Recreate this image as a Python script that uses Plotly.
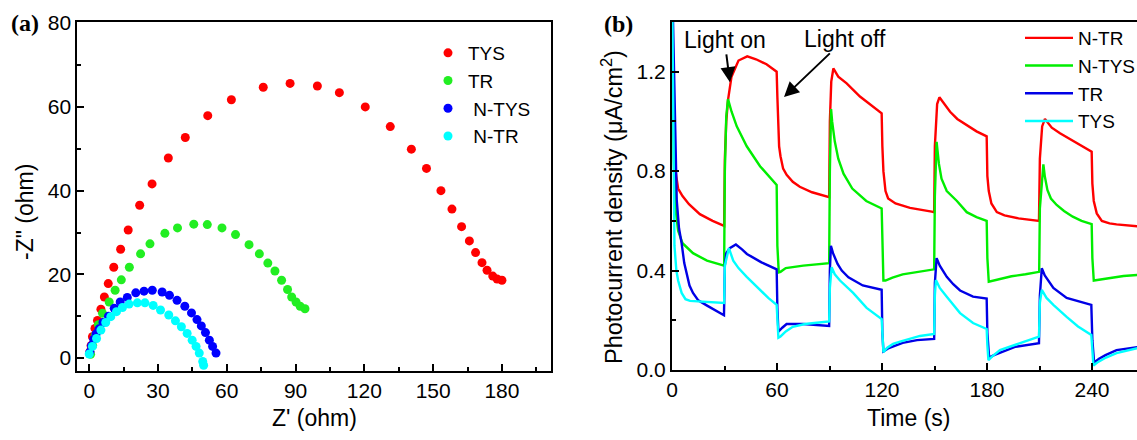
import plotly.graph_objects as go

W, H = 1137, 440

# ---------------- (a) Nyquist plots ----------------
tys_zr = [0.3, 0.8, 1.4, 2.5, 3.6, 5.1, 6.6, 8.3, 10.7, 13.7, 17.0, 22.0, 27.4, 34.5, 41.9,
          51.7, 62.0, 75.9, 87.6, 99.5, 109.1, 120.4, 131.3, 140.5, 147.1, 153.4, 158.2,
          162.4, 165.8, 168.5, 171.3, 173.5, 176.0, 177.9, 180.0]
tys_zi = [1.5, 3.0, 5.1, 7.1, 9.0, 11.7, 14.6, 17.8, 21.7, 26.0, 30.6, 36.5, 41.6, 47.8, 52.7,
          57.9, 61.7, 64.7, 65.6, 65.0, 63.4, 60.0, 55.3, 49.9, 45.3, 40.0, 35.6,
          31.4, 28.0, 25.2, 22.8, 21.0, 19.6, 18.9, 18.6]

tr_zr = [0.6, 1.5, 2.6, 4.0, 5.8, 8.7, 11.3, 14.0, 17.5, 22.4, 26.5, 33.0, 38.5, 45.6, 51.5,
         57.9, 63.8, 69.7, 74.2, 77.9, 81.0, 83.9, 86.5, 88.3, 90.2, 92.0, 94.1]
tr_zi = [0.9, 3.0, 5.5, 8.0, 10.7, 13.4, 16.2, 18.7, 21.7, 24.9, 27.3, 29.8, 31.1, 32.0, 31.9,
         31.1, 29.5, 27.1, 24.9, 22.7, 20.8, 18.6, 16.4, 14.6, 13.4, 12.4, 11.8]

ntys_zr = [0.3, 1.0, 2.0, 3.0, 4.3, 6.0, 8.4, 10.9, 13.5, 16.6, 20.3, 23.9, 27.5, 31.8, 35.0,
           38.3, 41.7, 44.6, 47.0, 48.9, 50.7, 52.4, 53.8, 55.3]
ntys_zi = [1.5, 3.0, 4.5, 5.8, 7.0, 8.5, 10.0, 11.9, 13.4, 14.5, 15.6, 16.0, 16.2, 15.8, 15.0,
           13.8, 12.4, 10.8, 9.2, 7.7, 6.1, 4.3, 2.8, 1.2]

ntr_zr = [0.0, 1.4, 3.2, 5.1, 7.2, 9.4, 11.9, 14.5, 17.4, 21.0, 24.3, 27.9, 31.1, 34.7, 37.6,
          40.2, 42.7, 44.9, 46.6, 48.0, 49.5, 49.9]
ntr_zi = [1.0, 2.8, 4.7, 6.7, 8.5, 9.9, 11.1, 12.1, 12.9, 13.2, 13.2, 12.6, 11.5, 10.3, 8.9,
          7.5, 5.9, 4.3, 2.8, 1.2, -0.8, -1.7]

# ---------------- (b) transient photocurrent ----------------
t_ntr = [0, 1.0, 2.0, 3.5, 6, 9.7, 15.9, 23.2, 29.8, 30.2, 31, 32, 34, 38, 43, 48, 54, 59.8,
         60.2, 60.6, 61.2, 62, 63.5, 65.5, 69, 73, 80, 89.8,
         90.2, 91, 92.2, 95, 99.8, 107.4, 115, 119.8,
         120.2, 120.8, 122, 123.5, 127.7, 136, 148.4, 149.8,
         150.2, 151.5, 152.8, 155, 158.9, 163, 168.4, 174, 179.8,
         180.2, 181, 182.5, 185.6, 190, 198, 209.7,
         210.2, 211.5, 213.1, 217, 221.7, 231.2, 239.8,
         240.2, 241, 242.7, 245.6, 250, 254, 265.9]
j_ntr = [1.6, 0.95, 0.8, 0.73, 0.70, 0.667, 0.627, 0.60, 0.58, 0.85, 1.0, 1.086, 1.18, 1.245, 1.262, 1.25, 1.23, 1.20,
         1.10, 0.97, 0.90, 0.86, 0.81, 0.785, 0.757, 0.737, 0.715, 0.695,
         1.0, 1.16, 1.213, 1.18, 1.153, 1.10, 1.059, 1.033,
         0.90, 0.80, 0.72, 0.69, 0.67, 0.652, 0.637, 0.635,
         0.90, 1.07, 1.097, 1.075, 1.039, 1.01, 0.986, 0.96, 0.94,
         0.78, 0.72, 0.67, 0.635, 0.622, 0.61, 0.60,
         0.85, 0.98, 1.01, 0.975, 0.952, 0.912, 0.878,
         0.75, 0.68, 0.63, 0.60, 0.59, 0.586, 0.578]

t_ntys = [0, 1.0, 2.0, 3.5, 6, 12, 20, 29.8, 30.2, 31, 32, 34, 37, 42.7, 50.3, 57.8, 59.8,
          60.2, 61, 62, 65, 75, 89.8,
          90.2, 90.9, 91.5, 93, 95, 98, 103, 111, 119.8,
          120.2, 120.8, 122, 126, 131.8, 140, 149.8,
          150.2, 151.2, 152.5, 154, 157, 162.8, 168.4, 174, 179.8,
          180.2, 181, 183, 187.4, 194, 202, 209.8,
          210.2, 212.2, 213, 214.5, 216.5, 219.8, 224, 229, 234, 239.8,
          240.2, 241, 243, 250, 258, 265.9]
j_ntys = [1.6, 0.85, 0.65, 0.56, 0.51, 0.47, 0.44, 0.42, 0.80, 1.02, 1.09, 1.04, 0.98, 0.90, 0.82, 0.757, 0.744,
          0.50, 0.393, 0.395, 0.41, 0.42, 0.43,
          0.80, 1.05, 1.0, 0.92, 0.85, 0.79, 0.73, 0.68, 0.65,
          0.50, 0.36, 0.36, 0.372, 0.385, 0.395, 0.405,
          0.70, 0.918, 0.83, 0.77, 0.72, 0.68, 0.635, 0.615, 0.60,
          0.45, 0.355, 0.358, 0.365, 0.377, 0.385, 0.395,
          0.65, 0.827, 0.78, 0.724, 0.69, 0.664, 0.64, 0.617, 0.60, 0.587,
          0.45, 0.36, 0.362, 0.37, 0.378, 0.382]

t_tr = [0, 1.5, 2.7, 4, 5.5, 7, 8.4, 10, 12, 15, 19.8, 25, 29.7,
        30.2, 31, 33, 36.5, 40, 42.8, 51.1, 59.8,
        60.2, 60.8, 63, 65.5, 75, 89.8,
        90.2, 90.8, 92, 94.6, 97, 100.8, 109, 119.8,
        120.2, 120.8, 123.5, 131.8, 140, 149.8,
        150.2, 151.2, 153, 157, 160.7, 164.6, 172, 179.8,
        180.2, 181.2, 184, 187.4, 196, 209.7,
        210.2, 211.3, 213, 217.9, 225.5, 239.6,
        240.2, 241.2, 244, 247.7, 254, 265.9]
j_tr = [1.6, 1.0, 0.684, 0.57, 0.51, 0.43, 0.39, 0.34, 0.31, 0.28, 0.26, 0.24, 0.22,
        0.42, 0.47, 0.49, 0.505, 0.485, 0.467, 0.433, 0.405,
        0.25, 0.154, 0.17, 0.185, 0.185, 0.177,
        0.40, 0.50, 0.47, 0.427, 0.40, 0.373, 0.34, 0.323,
        0.15, 0.075, 0.087, 0.109, 0.12, 0.125,
        0.35, 0.45, 0.42, 0.375, 0.345, 0.32, 0.295, 0.287,
        0.15, 0.05, 0.06, 0.07, 0.093, 0.108,
        0.30, 0.409, 0.38, 0.33, 0.29, 0.262,
        0.12, 0.03, 0.045, 0.06, 0.08, 0.092]

t_tys = [0, 0.7, 1.4, 2.5, 3.5, 5.5, 7.7, 10.3, 21.7, 29.8,
         30.2, 32.5, 35, 38, 42.7, 50.3, 55, 59.8,
         60.2, 60.8, 62, 65, 69, 76, 82.7, 89.8,
         90.2, 91.2, 93, 96, 103.5, 111.2, 119.8,
         120.2, 120.8, 123, 126.3, 130.3, 141.7, 149.8,
         150.2, 150.8, 153, 157, 164.6, 172, 179.8,
         180.2, 180.8, 183, 187.4, 198.9, 209.7,
         210.2, 211.3, 214, 217.9, 225.5, 232, 239.6,
         240.2, 240.8, 243, 248, 254, 265.9]
j_tys = [1.6, 1.0, 0.50, 0.40, 0.36, 0.31, 0.285, 0.278, 0.275, 0.27,
         0.42, 0.49, 0.44, 0.41, 0.375, 0.32, 0.29, 0.262,
         0.20, 0.13, 0.135, 0.155, 0.174, 0.185, 0.19, 0.195,
         0.33, 0.413, 0.385, 0.36, 0.31, 0.25, 0.205,
         0.13, 0.072, 0.09, 0.105, 0.114, 0.137, 0.145,
         0.30, 0.362, 0.33, 0.295, 0.229, 0.189, 0.165,
         0.10, 0.04, 0.055, 0.08, 0.108, 0.134,
         0.27, 0.322, 0.29, 0.262, 0.214, 0.175, 0.141,
         0.06, 0.018, 0.03, 0.05, 0.068, 0.088]

FONT = "Liberation Sans, Arial, sans-serif"
SERIF = "Liberation Serif, Times New Roman, serif"

fig = go.Figure()

nyquist = [
    ("TYS", tys_zr, tys_zi, "#FF0000"),
    ("TR", tr_zr, tr_zi, "#22EE22"),
    (" N-TYS", ntys_zr, ntys_zi, "#0000FF"),
    (" N-TR", ntr_zr, ntr_zi, "#00FFFF"),
]
for name, zr, zi, col in nyquist:
    fig.add_trace(go.Scatter(x=zr, y=zi, mode="markers", name=name,
                             marker=dict(size=9, color=col, line=dict(width=0)),
                             xaxis="x", yaxis="y", legend="legend"))

transients = [
    ("N-TR", t_ntr, j_ntr, "#FF0000"),
    ("N-TYS", t_ntys, j_ntys, "#00EE00"),
    ("TR", t_tr, j_tr, "#0000E6"),
    ("TYS", t_tys, j_tys, "#00FFFF"),
]
for name, t, j, col in transients:
    fig.add_trace(go.Scatter(x=t, y=j, mode="lines", name=name,
                             line=dict(color=col, width=2.4),
                             xaxis="x2", yaxis="y2", legend="legend2"))

axis_common = dict(showline=True, linewidth=2, linecolor="black", showgrid=False,
                   zeroline=False, ticks="inside", ticklen=7, tickwidth=2, tickcolor="black",
                   automargin=False,
                   tickfont=dict(family=FONT, size=21, color="black"))

fig.update_layout(
    template="none",
    width=W, height=H,
    margin=dict(l=0, r=0, t=0, b=0, pad=0, autoexpand=False),
    paper_bgcolor="white", plot_bgcolor="white",
    font=dict(family=FONT, color="black"),
    xaxis=dict(domain=[77.3 / W, 551 / W], range=[-5.2, 201.4], tick0=0, dtick=30,
               mirror=True, anchor="y",
               minor=dict(ticks="inside", ticklen=4, tickwidth=2, dtick=15, tick0=0),
               **axis_common),
    yaxis=dict(domain=[1 - 370.7 / H, 1 - 22.3 / H], range=[-3.0, 80.2], tick0=0, dtick=20,
               mirror=True, anchor="x",
               minor=dict(ticks="inside", ticklen=4, tickwidth=2, dtick=10, tick0=0),
               **axis_common),
    xaxis2=dict(domain=[672 / W, 1.0], range=[0, 265.7], tick0=0, dtick=60,
                mirror=True, anchor="y2",
                minor=dict(ticks="inside", ticklen=4, tickwidth=2, dtick=30, tick0=0),
                **axis_common),
    yaxis2=dict(domain=[1 - 370 / H, 1 - 22 / H], range=[0, 1.4], tick0=0, dtick=0.4,
                tickformat=".1f", mirror=False, anchor="x2",
                minor=dict(ticks="inside", ticklen=4, tickwidth=2, dtick=0.2, tick0=0),
                **axis_common),
    legend=dict(x=428 / W, y=1 - 34 / H, xanchor="left", yanchor="top",
                font=dict(family=FONT, size=19, color="black"),
                bgcolor="rgba(0,0,0,0)", borderwidth=0, tracegroupgap=0),
    legend2=dict(x=1020 / W, y=1 - 19 / H, xanchor="left", yanchor="top",
                 font=dict(family=FONT, size=19, color="black"),
                 bgcolor="rgba(255,255,255,0)", borderwidth=0, tracegroupgap=0,
                 itemwidth=48),
    showlegend=True,
)

txt = dict(xref="paper", yref="paper", xanchor="center", yanchor="middle", showarrow=False)
ann = []
# panel labels
ann.append(dict(text="<b>(a)</b>", x=25 / W, y=1 - 23 / H,
                font=dict(family=SERIF, size=24, color="black"), **txt))
ann.append(dict(text="<b>(b)</b>", x=618 / W, y=1 - 24 / H,
                font=dict(family=SERIF, size=24, color="black"), **txt))
# axis titles
ann.append(dict(text="Z' (ohm)", x=314 / W, y=1 - 418 / H,
                font=dict(family=FONT, size=23, color="black"), **txt))
ann.append(dict(text="-Z\" (ohm)", x=25 / W, y=1 - 212 / H, textangle=-90,
                font=dict(family=FONT, size=23, color="black"), **txt))
ann.append(dict(text="Time (s)", x=908 / W, y=1 - 418 / H,
                font=dict(family=FONT, size=23, color="black"), **txt))
ann.append(dict(text="Photocurrent density (μA/cm<sup>2</sup>)", x=612 / W, y=1 - 207 / H,
                textangle=-90, font=dict(family=FONT, size=23.5, color="black"), **txt))
# light on / off labels, each with an arrow pointing at the switching edge
arrow = dict(xref="x2", yref="y2", axref="x2", ayref="y2", showarrow=True,
             arrowhead=2, arrowsize=1.5, arrowwidth=2, arrowcolor="black",
             font=dict(family=FONT, size=23, color="black"))
ann.append(dict(text="Light on", x=33.1, y=1.158, ax=30.0, ay=1.328, **arrow))
ann.append(dict(text="Light off", x=64.0, y=1.098, ax=98.9, ay=1.332, **arrow))
fig.update_layout(annotations=ann)

fig.write_html("out.html")
